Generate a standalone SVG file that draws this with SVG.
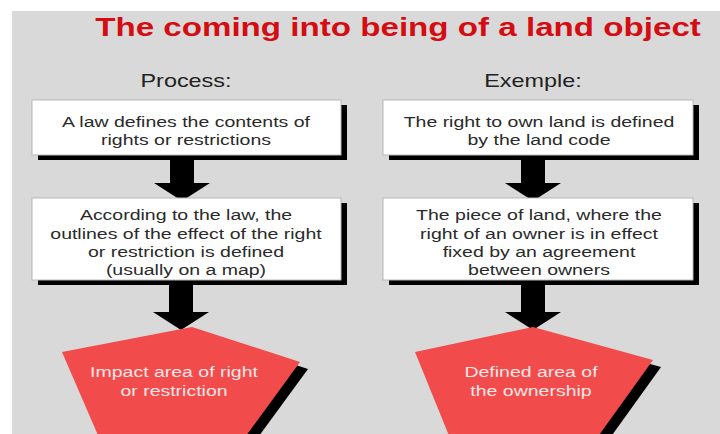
<svg xmlns="http://www.w3.org/2000/svg" width="720" height="434" viewBox="0 0 720 434">
<style>
.bg{fill:#d9d9d9}
.box{fill:#ffffff;stroke:#b8b8b8;stroke-width:1}
.shadow{fill:#000000}
.pent{fill:#f24b4b}
.arrow{fill:#000000}
.title{font-family:"Liberation Sans",Arial,sans-serif;font-weight:bold;font-size:25.5px;fill:#d40d12;text-anchor:middle}
.head{font-family:"Liberation Sans",Arial,sans-serif;font-size:18px;fill:#222222;text-anchor:middle}
.t{font-family:"Liberation Sans",Arial,sans-serif;font-size:15px;fill:#2a2a2a;text-anchor:middle}
.tw{font-family:"Liberation Sans",Arial,sans-serif;font-size:15px;fill:#ffe6e6;text-anchor:middle}
</style>
<rect x="0" y="0" width="720" height="434" fill="#ffffff"/>
<rect class="bg" x="12" y="11" width="708" height="423"/>

<g id="title" transform="translate(398 0) scale(1.3 1)">
<text class="title" x="0" y="36">The coming into being of a land object</text>
</g>
<g id="heading-process" transform="translate(186 0) scale(1.3 1)">
<text class="head" x="0" y="87">Process:</text>
</g>
<g id="heading-example" transform="translate(533 0) scale(1.3 1)">
<text class="head" x="0" y="87">Exemple:</text>
</g>

<g id="connectors">
<polygon class="arrow" points="170,155 194,155 194,183 210,183 182,201 154,183 170,183"/>
<polygon class="arrow" points="169,280 193,280 193,312 209,312 181,330 153,312 169,312"/>
<polygon class="arrow" points="521,155 545,155 545,183 561,183 533,201 505,183 521,183"/>
<polygon class="arrow" points="521,280 545,280 545,312 561,312 533,330 505,312 521,312"/>
</g>

<g id="law-box">
<rect class="shadow" x="38" y="105" width="309" height="55"/>
<rect class="box" x="32" y="100" width="309" height="55"/>
<g transform="translate(186 0) scale(1.3 1)">
<text class="t" x="0" y="127">A law defines the contents of</text>
<text class="t" x="0" y="145">rights or restrictions</text>
</g>
</g>

<g id="outline-box">
<rect class="shadow" x="38" y="203" width="309" height="82"/>
<rect class="box" x="32" y="198" width="309" height="82"/>
<g transform="translate(186 0) scale(1.3 1)">
<text class="t" x="0" y="220">According to the law, the</text>
<text class="t" x="0" y="239">outlines of the effect of the right</text>
<text class="t" x="0" y="257">or restriction is defined</text>
<text class="t" x="0" y="275">(usually on a map)</text>
</g>
</g>

<g id="impact-area">
<polygon class="shadow" transform="translate(8 7)" points="192,327 300,362 221,470 113,470 62,352"/>
<polygon class="pent" points="192,327 300,362 221,470 113,470 62,352"/>
<g transform="translate(174 0) scale(1.3 1)">
<text class="tw" x="0" y="377">Impact area of right</text>
<text class="tw" x="0" y="396">or restriction</text>
</g>
</g>

<g id="right-box">
<rect class="shadow" x="389" y="105" width="310" height="55"/>
<rect class="box" x="383" y="100" width="310" height="55"/>
<g transform="translate(539 0) scale(1.3 1)">
<text class="t" x="0" y="127">The right to own land is defined</text>
<text class="t" x="0" y="145">by the land code</text>
</g>
</g>

<g id="piece-box">
<rect class="shadow" x="389" y="203" width="310" height="82"/>
<rect class="box" x="383" y="198" width="310" height="82"/>
<g transform="translate(539 0) scale(1.3 1)">
<text class="t" x="0" y="220">The piece of land, where the</text>
<text class="t" x="0" y="239">right of an owner is in effect</text>
<text class="t" x="0" y="257">fixed by an agreement</text>
<text class="t" x="0" y="275">between owners</text>
</g>
</g>

<g id="defined-area">
<polygon class="shadow" transform="translate(8 7)" points="533,327 653,360 574,470 463,470 415,352"/>
<polygon class="pent" points="533,327 653,360 574,470 463,470 415,352"/>
<g transform="translate(531 0) scale(1.3 1)">
<text class="tw" x="0" y="377">Defined area of</text>
<text class="tw" x="0" y="396">the ownership</text>
</g>
</g>
</svg>
